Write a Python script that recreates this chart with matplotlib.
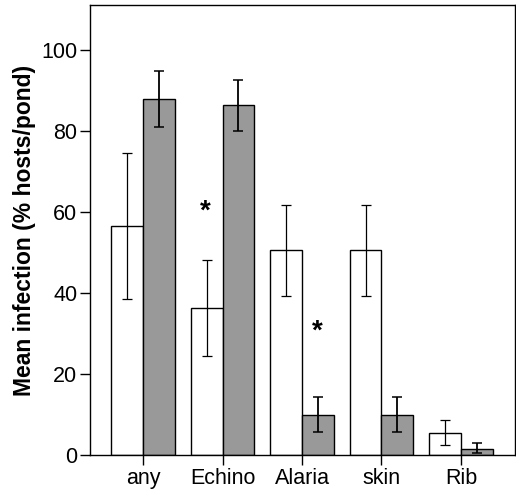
import matplotlib.pyplot as plt
import numpy as np

plt.rcParams['font.family'] = ['Liberation Sans', 'DejaVu Sans']

# Mittelwerte und Fehlerbalken
categories = ['any', 'Echino', 'Alaria', 'skin', 'Rib']
white_mean = [56.5, 36.3, 50.5, 50.5, 5.5]
white_lo = [38.4, 24.5, 39.2, 39.2, 2.5]
white_hi = [74.6, 48.0, 61.7, 61.7, 8.6]
gray_mean = [87.7, 86.4, 10.0, 10.0, 1.6]
gray_lo = [80.8, 80.0, 5.7, 5.7, 0.5]
gray_hi = [94.6, 92.4, 14.3, 14.3, 3.0]

x = np.arange(len(categories))
w = 0.4

fig = plt.figure(figsize=(5.16, 4.92), dpi=100)
ax = fig.add_axes([0.174, 0.075, 0.824, 0.915])

wm = np.array(white_mean)
gm = np.array(gray_mean)
ax.bar(x - w / 2, wm, width=w, color='white', edgecolor='black', linewidth=1)
ax.bar(x + w / 2, gm, width=w, color='#999999', edgecolor='black', linewidth=1)
ax.errorbar(x - w / 2, wm, yerr=[wm - np.array(white_lo), np.array(white_hi) - wm],
            fmt='none', ecolor='black', elinewidth=0.9, capsize=3.5, capthick=0.9)
ax.errorbar(x + w / 2, gm, yerr=[gm - np.array(gray_lo), np.array(gray_hi) - gm],
            fmt='none', ecolor='black', elinewidth=1.3, capsize=3.5, capthick=1.1)

# Signifikanz
ax.text(1 - w / 2 - 0.02, 60, '*', ha='center', va='center', fontsize=20, fontweight='bold')
ax.text(2 + w / 2 - 0.01, 30.5, '*', ha='center', va='center', fontsize=20, fontweight='bold')

ax.set_xlim(-0.67, 4.68)
ax.set_ylim(0, 111)
ax.set_yticks([0, 20, 40, 60, 80, 100])
ax.set_xticks(x)
ax.set_xticklabels(categories)
ax.tick_params(axis='both', labelsize=15.5, length=7, width=1, direction='out', pad=2)
ax.set_ylabel('Mean infection (% hosts/pond)', fontsize=16.5, fontweight='bold', labelpad=4)
for s in ax.spines.values():
    s.set_linewidth(1)

fig.savefig('out.png', dpi=100)
